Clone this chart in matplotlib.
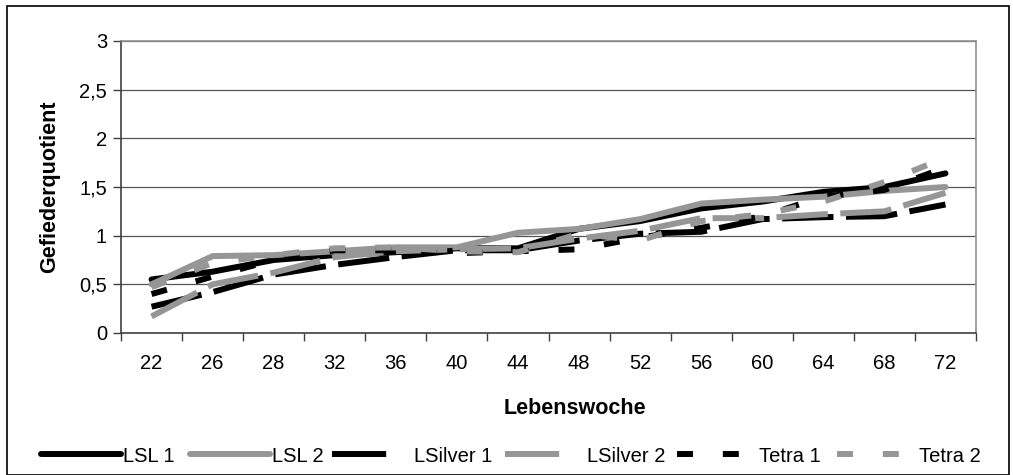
import matplotlib
matplotlib.use("Agg")
import matplotlib.pyplot as plt
from matplotlib.patches import Rectangle
from matplotlib.lines import Line2D
import numpy as np

plt.rcParams['font.family'] = ['Liberation Sans', 'DejaVu Sans']
plt.rcParams['lines.scale_dashes'] = False

weeks = ['22', '26', '28', '32', '36', '40', '44', '48', '52', '56', '60', '64', '68', '72']
lsl1 = [0.55, 0.63, 0.75, 0.80, 0.83, 0.87, 0.87, 1.07, 1.15, 1.28, 1.35, 1.45, 1.50, 1.64]
lsl2 = [0.50, 0.79, 0.80, 0.84, 0.88, 0.88, 1.03, 1.07, 1.17, 1.33, 1.37, 1.40, 1.46, 1.50]
lsilver1 = [0.27, 0.42, 0.60, 0.70, 0.78, 0.85, 0.85, 0.95, 1.02, 1.04, 1.17, 1.19, 1.20, 1.32]
lsilver2 = [0.17, 0.50, 0.62, 0.78, 0.84, 0.86, 0.87, 0.97, 1.05, 1.18, 1.18, 1.22, 1.25, 1.44]
tetra1 = [0.40, 0.58, 0.75, 0.85, 0.85, 0.82, 0.84, 0.86, 0.98, 1.08, 1.20, 1.40, 1.47, 1.70]
tetra2 = [0.47, 0.72, 0.80, 0.87, 0.88, 0.84, 0.83, 1.02, 0.95, 1.15, 1.22, 1.35, 1.55, 1.80]
series_names = ['LSL 1', 'LSL 2', 'LSilver 1', 'LSilver 2', 'Tetra 1', 'Tetra 2']
y_ticks = [0, 0.5, 1, 1.5, 2, 2.5, 3]
y_ticklabels = ['0', '0,5', '1', '1,5', '2', '2,5', '3']

W, H = 1013, 475
fig = plt.figure(figsize=(W / 100, H / 100), dpi=100)
ax = fig.add_axes([121 / W, 1 - 333 / H, (976 - 121) / W, (333 - 41) / H])

x = np.arange(len(weeks))
black = '#000000'
gray = '#969696'
lw = 4.3
long_dash = (0, (37, 9))
sq_dash = (0, (11.5, 21.5))
legend_long_dash = (0, (39, 30))

styles = [
    dict(color=black, linestyle='-', solid_capstyle='round'),
    dict(color=gray, linestyle='-', solid_capstyle='round'),
    dict(color=black, linestyle=long_dash, dash_capstyle='butt'),
    dict(color=gray, linestyle=long_dash, dash_capstyle='butt'),
    dict(color=black, linestyle=sq_dash, dash_capstyle='butt'),
    dict(color=gray, linestyle=sq_dash, dash_capstyle='butt'),
]
data = [lsl1, lsl2, lsilver1, lsilver2, tetra1, tetra2]
handles = []
for name, vals, st in zip(series_names, data, styles):
    h, = ax.plot(x, vals, lw=lw, label=name, solid_joinstyle='miter', **st)
    handles.append(h)

ax.set_xlim(-0.5, len(weeks) - 0.5)
ax.set_ylim(0, 3)
ax.set_xticks(x)
ax.set_xticklabels(weeks, fontsize=14.5)
ax.set_xticks(np.arange(-0.5, len(weeks)), minor=True)
ax.tick_params(axis='x', which='major', length=0, pad=15)
ax.tick_params(axis='x', which='minor', length=6, width=1, direction='out', color='#404040')
ax.set_yticks(y_ticks)
ax.set_yticklabels(y_ticklabels, fontsize=14.5)
ax.tick_params(axis='y', length=6, width=1, direction='out', color='#404040', pad=4)

for yv in y_ticks[1:]:
    ax.axhline(yv, color='#555555', lw=0.9, zorder=0)

ax.spines['left'].set_color('#404040')
ax.spines['bottom'].set_color('#404040')
ax.spines['top'].set_color('#909090')
ax.spines['right'].set_color('#909090')
for s in ax.spines.values():
    s.set_linewidth(1.2)

ax.set_xlabel('Lebenswoche', fontsize=15.5, fontweight='bold', labelpad=18,
              x=(575 - 121) / (976 - 121), ha='center')
ax.set_ylabel('Gefiederquotient', fontsize=15.5, fontweight='bold', labelpad=14)

# legend proxies (Excel legend shows one long dash for the long-dash series)
proxies = []
for h in handles:
    ls = h.get_linestyle()
    p = Line2D([], [], color=h.get_color(), lw=lw,
               solid_capstyle=h.get_solid_capstyle(), dash_capstyle='butt')
    if h in handles[2:4]:
        p.set_linestyle(legend_long_dash)
    elif h in handles[4:6]:
        p.set_linestyle(sq_dash)
    else:
        p.set_linestyle('-')
    proxies.append(p)

legend_x = [41, 190, 332, 505, 677, 837]
for p, name, lx in zip(proxies, series_names, legend_x):
    fig.legend(handles=[p], labels=[name], loc='center left',
               bbox_to_anchor=(lx / W, 1 - 456 / H), frameon=False,
               fontsize=14.5, handlelength=3.97, handletextpad=0.12,
               borderpad=0, borderaxespad=0)

fig.patches.append(Rectangle((7 / W, 0.0), (1009 - 7) / W, 1 - 6 / H - 0.0,
                             transform=fig.transFigure, fill=False, edgecolor='#000000', lw=1.2))

fig.savefig('out.png', dpi=100)
